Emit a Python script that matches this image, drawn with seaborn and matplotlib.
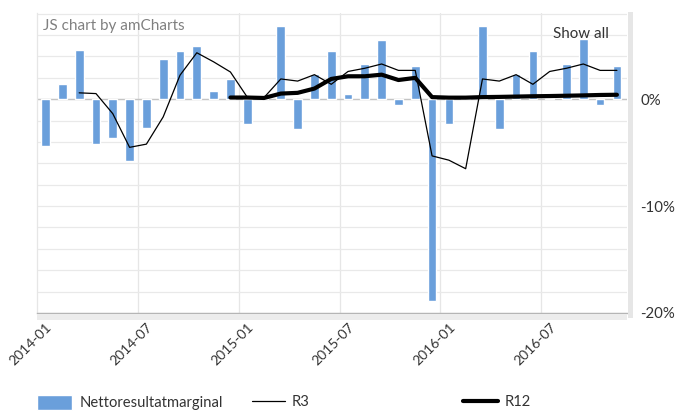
import numpy as np
import pandas as pd
import matplotlib
matplotlib.use("Agg")
import matplotlib.pyplot as plt
from matplotlib.patches import Rectangle
import seaborn as sns

# ---- data ----
months = [f"{y}-{m:02d}" for y in (2014, 2015, 2016) for m in range(1, 13)][:35]
margin = [-4.4, 1.4, 4.6, -4.2, -3.6, -5.8, -2.7, 3.8, 4.5, 5.0, 0.75, 1.9,
          -2.3, 0.3, 6.9, -2.8, 2.35, 4.5, 0.47, 3.3, 5.5, -0.56, 3.1, -18.9,
          -2.3, 0.44, 6.9, -2.8, 2.35, 4.5, 0.1, 3.3, 5.6, -0.56, 3.1]
r3 = [np.nan, np.nan, 0.6, 0.53, -1.35, -4.5, -4.2, -1.65, 2.25, 4.35, 3.5, 2.55,
      0.2, 0.16, 1.9, 1.7, 2.3, 1.4, 2.6, 2.9, 3.3, 2.7, 2.7, -5.3,
      -5.7, -6.5, 1.9, 1.7, 2.3, 1.4, 2.6, 2.9, 3.3, 2.7, 2.7]
r12 = [np.nan] * 11 + [0.16, 0.16, 0.12, 0.53, 0.6, 1.0, 1.9, 2.15, 2.15, 2.3, 1.8, 2.0,
                       0.2, 0.15, 0.15, 0.2, 0.22, 0.25, 0.28, 0.3, 0.33, 0.36, 0.4, 0.42]
tick_months = ["2014-01", "2014-07", "2015-01", "2015-07", "2016-01", "2016-07"]
y_ticks = [-20, -10, 0]
y_ticklabels = ["-20%", "-10%", "0%"]
series_names = ["Nettoresultatmarginal", "R3", "R12"]

df = pd.DataFrame({"month": months, "pos": np.arange(len(months)),
                   "margin": margin, "r3": r3, "r12": r12})

sns.set_theme(style="white")
plt.rcParams["font.family"] = ["Lato", "DejaVu Sans"]

W, H = 677, 412
fig = plt.figure(figsize=(W / 100, H / 100), dpi=100)
ax = fig.add_axes([37 / W, 1 - 313 / H, 590 / W, 300 / H])

bar_color = "#6a9fdb"
sns.barplot(data=df, x="pos", y="margin", native_scale=True, width=0.52,
            color=bar_color, saturation=1, errorbar=None, label=series_names[0],
            ax=ax, zorder=2)
sns.lineplot(data=df, x="pos", y="r3", color="black", lw=0.9, label=series_names[1], ax=ax, zorder=3)
sns.lineplot(data=df, x="pos", y="r12", color="black", lw=3.0, label=series_names[2], ax=ax, zorder=4)

handles, labels = ax.get_legend_handles_labels()
hmap = dict(zip(labels, handles))
if ax.get_legend() is not None:
    ax.get_legend().remove()

ax.set_xlim(-0.51, 34.6)
ax.set_ylim(-20, 8.07)
ax.set_xlabel("")
ax.set_ylabel("")

# x ticks
tick_pos = [months.index(m) for m in tick_months]
ax.set_xticks(tick_pos)
ax.set_xticklabels(tick_months, rotation=45, ha="right", rotation_mode="anchor",
                   fontsize=10, color="#333333")
ax.set_xticks([p - 0.5 for p in tick_pos[1:]], minor=True)
ax.tick_params(axis="x", which="major", length=4.5, width=0.8, color="#999999",
               direction="out", pad=1.5, bottom=True)
ax.tick_params(axis="x", which="minor", length=0)
ax.grid(which="minor", axis="x", color="#e6e6e6", lw=0.9, zorder=0)
ax.grid(which="major", axis="x", visible=False)

# y ticks on right
ax.yaxis.tick_right()
ax.set_yticks(y_ticks)
ax.set_yticklabels(y_ticklabels, fontsize=10.8, color="#333333")
ax.set_yticks(np.arange(-20, 9, 2), minor=True)
ax.tick_params(axis="y", which="both", length=0, pad=9.5)
ax.grid(which="both", axis="y", color="#e9e9e9", lw=0.9, zorder=0)
ax.axhline(0, color="#c4c4c4", lw=1.0, zorder=1)
ax.set_axisbelow(True)

for s in ["top", "right"]:
    ax.spines[s].set_visible(False)
ax.spines["left"].set_color("#e6e6e6")
ax.spines["left"].set_linewidth(0.9)
ax.spines["bottom"].set_color("#b5b5b5")
ax.spines["bottom"].set_linewidth(1.0)

# scrollbars (decor)
fig.patches.append(Rectangle((37 / W, 1 - 320 / H), 590 / W, 6 / H, transform=fig.transFigure,
                             facecolor="#ececec", edgecolor="none", zorder=0))
fig.patches.append(Rectangle((628 / W, 1 - 318 / H), 5 / W, 306 / H, transform=fig.transFigure,
                             facecolor="#e6e6e6", edgecolor="none", zorder=0))

# texts
fig.text(43 / W, 1 - 26 / H, "JS chart by amCharts", fontsize=11, color="#808080",
         va="center", ha="left")
fig.text(553 / W, 1 - 34 / H, "Show all", fontsize=10.9, color="#333333",
         va="center", ha="left")

# legends
fs = 10.6
fs_px = fs * 100 / 72
specs = [
    (series_names[0], 37, 35, 17, 8),
    (series_names[1], 252, 33, 10, 7),
    (series_names[2], 463, 35, 10, 7),
]
for name, x0, hl, hh, gap in specs:
    fig.legend([hmap[name]], [name], loc="center left",
               bbox_to_anchor=(x0 / W, 1 - 402.5 / H), frameon=False,
               fontsize=fs, handlelength=hl / fs_px, handleheight=hh / fs_px,
               handletextpad=gap / fs_px, borderpad=0, borderaxespad=0,
               labelcolor="#333333")

fig.savefig("out.png", dpi=100)
